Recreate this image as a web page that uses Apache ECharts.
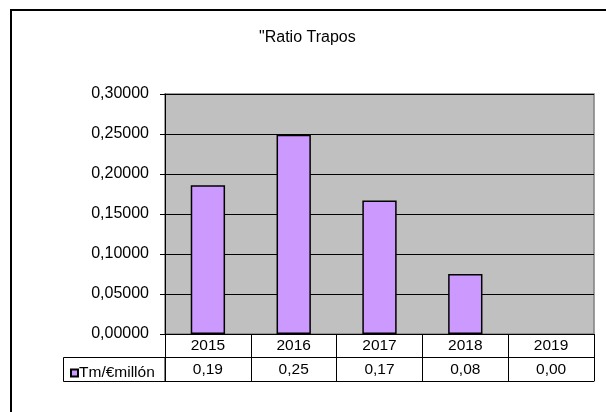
<!DOCTYPE html>
<html>
<head>
<meta charset="utf-8">
<script src="https://cdn.jsdelivr.net/npm/echarts@6/dist/echarts.min.js"></script>
<style>
html,body{margin:0;padding:0;background:#fff;}
#c{width:606px;height:412px;}
</style>
</head>
<body>
<div id="c"></div>
<script>
var titleText = '"Ratio Trapos';
var seriesName = 'Tm/€millón';
var years = ['2015', '2016', '2017', '2018', '2019'];
var values = [0.186, 0.249, 0.167, 0.075, 0.0];
var tableValues = ['0,19', '0,25', '0,17', '0,08', '0,00'];
var yTicks = ['0,00000', '0,05000', '0,10000', '0,15000', '0,20000', '0,25000', '0,30000'];

var FONT = 'Liberation Sans, Arial, sans-serif';
var chart = echarts.init(document.getElementById('c'), null, {renderer: 'canvas'});
chart.setOption({
  animation: false,
  backgroundColor: '#fff',
  title: {
    text: titleText,
    left: 254,
    top: 25,
    textStyle: {fontFamily: FONT, fontSize: 16, fontWeight: 'normal', color: '#000'}
  },
  legend: {
    data: [seriesName],
    left: 65,
    top: 360,
    icon: 'rect',
    itemWidth: 7,
    itemHeight: 7,
    textStyle: {fontFamily: FONT, fontSize: 15.5, color: '#000', padding: [0, 0, 0, -4]}
  },
  grid: {
    left: 165, top: 94, right: 12, bottom: 78,
    show: true,
    backgroundColor: '#C0C0C0',
    borderColor: '#808080',
    borderWidth: 1.5
  },
  xAxis: [
    {
      type: 'category',
      data: years,
      position: 'bottom',
      axisLine: {show: true, lineStyle: {color: '#000', width: 1}},
      axisTick: {show: true, length: 47, lineStyle: {color: '#000', width: 1}},
      axisLabel: {fontFamily: FONT, fontSize: 15.5, color: '#000', margin: 4}
    },
    {
      type: 'category',
      data: tableValues,
      position: 'bottom',
      offset: 23.5,
      axisLine: {show: true, lineStyle: {color: '#000', width: 1}},
      axisTick: {show: false},
      axisLabel: {fontFamily: FONT, fontSize: 15.5, color: '#000', margin: 4}
    },
    {
      type: 'category',
      data: years,
      position: 'bottom',
      offset: 47,
      axisLine: {show: true, lineStyle: {color: '#000', width: 1}},
      axisTick: {show: false},
      axisLabel: {show: false}
    }
  ],
  yAxis: {
    type: 'value',
    min: 0,
    max: 0.3,
    interval: 0.05,
    axisLine: {show: true, lineStyle: {color: '#000', width: 1}},
    axisTick: {show: true, inside: false, length: 5, lineStyle: {color: '#000'}},
    axisLabel: {
      fontFamily: FONT, fontSize: 16, color: '#000', margin: 16,
      formatter: function (v) { return yTicks[Math.round(v / 0.05)]; }
    },
    splitLine: {show: true, lineStyle: {color: '#000', width: 1}}
  },
  series: [{
    name: seriesName,
    type: 'bar',
    xAxisIndex: 0,
    data: values.map(function (v) {
      return v === 0 ? {value: v, itemStyle: {borderWidth: 0}} : v;
    }),
    barWidth: '40%',
    itemStyle: {color: '#CC99FF', borderColor: '#000', borderWidth: 1.5}
  }],
  graphic: [
    {
      type: 'rect',
      shape: {x: 63.5, y: 357.5, width: 101.5, height: 24},
      style: {fill: 'none', stroke: '#000', lineWidth: 1},
      silent: true
    },
    {
      type: 'rect',
      shape: {x: 11, y: 10, width: 620, height: 420},
      style: {fill: 'none', stroke: '#000', lineWidth: 2},
      silent: true
    }
  ]
});
</script>
</body>
</html>
